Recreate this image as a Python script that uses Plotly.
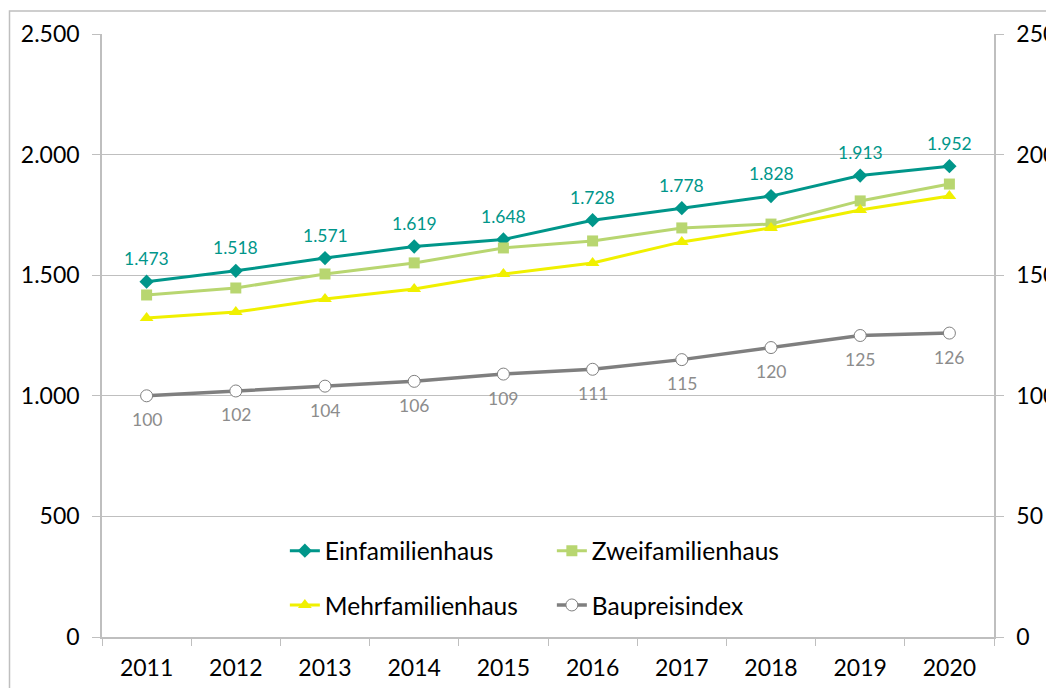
import plotly.graph_objects as go

years = ["2011", "2012", "2013", "2014", "2015", "2016", "2017", "2018", "2019", "2020"]
einfamilienhaus = [1473, 1518, 1571, 1619, 1648, 1728, 1778, 1828, 1913, 1952]
zweifamilienhaus = [1418, 1447, 1505, 1551, 1613, 1642, 1696, 1712, 1808, 1878]
mehrfamilienhaus = [1323, 1347, 1401, 1443, 1505, 1551, 1638, 1696, 1770, 1828]
baupreisindex = [100, 102, 104, 106, 109, 111, 115, 120, 125, 126]

FONT = "Lato"
C_EFH = "#00968A"
C_ZFH = "#B8D670"
C_MFH = "#F0F000"
C_BPI = "#7F7F7F"
GRID = "#BFBFBF"

fig = go.Figure()
fig.add_trace(go.Scatter(
    x=years, y=einfamilienhaus, name="Einfamilienhaus", mode="lines+markers",
    line=dict(color=C_EFH, width=3), marker=dict(symbol="diamond", size=11, color=C_EFH),
    legend="legend"))
fig.add_trace(go.Scatter(
    x=years, y=zweifamilienhaus, name="Zweifamilienhaus", mode="lines+markers",
    line=dict(color=C_ZFH, width=3), marker=dict(symbol="square", size=11, color=C_ZFH),
    legend="legend"))
fig.add_trace(go.Scatter(
    x=years, y=mehrfamilienhaus, name="Mehrfamilienhaus", mode="lines+markers",
    line=dict(color=C_MFH, width=3), marker=dict(symbol="triangle-up", size=12, color=C_MFH),
    legend="legend2"))
fig.add_trace(go.Scatter(
    x=years, y=baupreisindex, name="Baupreisindex", mode="lines+markers", yaxis="y2",
    line=dict(color=C_BPI, width=3.5),
    marker=dict(symbol="circle", size=12, color="white", line=dict(color=C_BPI, width=1)),
    legend="legend2"))

# data labels (x given as category index so "2011" is not read as a number)
for i, v in enumerate(einfamilienhaus):
    fig.add_annotation(x=i, y=v, xref="x", yref="y", text=f"{v:,}".replace(",", "."),
                       showarrow=False, yshift=23,
                       font=dict(color=C_EFH, size=17.5, family=FONT))
for i, v in enumerate(baupreisindex):
    fig.add_annotation(x=i, y=v, xref="x", yref="y2", text=str(v),
                       showarrow=False, yshift=-24,
                       font=dict(color="#8C8C8C", size=17.5, family=FONT))

fig.add_shape(type="rect", xref="paper", yref="paper", x0=-0.1037, x1=1.3, y0=-0.3, y1=1.0381,
              line=dict(color=GRID, width=1.5), fillcolor="rgba(0,0,0,0)", layer="below")

legend_common = dict(orientation="h", xanchor="left", yanchor="middle", entrywidth=222,
                     font=dict(family=FONT, size=24.5, color="black"), bgcolor="rgba(0,0,0,0)",
                     itemclick=False)

TICKFONT = dict(size=23, family=FONT, color="black")

fig.update_layout(
    width=1054, height=688,
    margin=dict(l=94, r=68, t=26, b=59, autoexpand=False),
    paper_bgcolor="white", plot_bgcolor="white",
    separators=",.",
    font=dict(family=FONT, size=20, color="black"),
    xaxis=dict(type="category", range=[-0.5, 9.5], showgrid=False, showline=True,
               linecolor=GRID, linewidth=1.5, ticks="outside", tickson="boundaries",
               ticklen=7, tickcolor=GRID, tickfont=TICKFONT, ticklabelstandoff=10,
               automargin=False),
    yaxis=dict(range=[0, 2500], dtick=500, tickformat=",d", separatethousands=True,
               showgrid=True, gridcolor=GRID, gridwidth=1.2, showline=True, linecolor=GRID,
               linewidth=1.5, ticks="outside", ticklen=8, tickcolor=GRID, zeroline=False,
               ticklabelstandoff=8, tickfont=TICKFONT, automargin=False),
    yaxis2=dict(range=[0, 250], dtick=50, overlaying="y", side="right", showgrid=False,
                showline=True, linecolor=GRID, linewidth=1.5, ticks="outside", ticklen=8,
                tickcolor=GRID, zeroline=False, ticklabelstandoff=8, tickfont=TICKFONT,
                automargin=False),
    legend=dict(x=0.205, y=0.143, **legend_common),
    legend2=dict(x=0.205, y=0.053, **legend_common),
    showlegend=True,
)

fig.write_html("out.html")
